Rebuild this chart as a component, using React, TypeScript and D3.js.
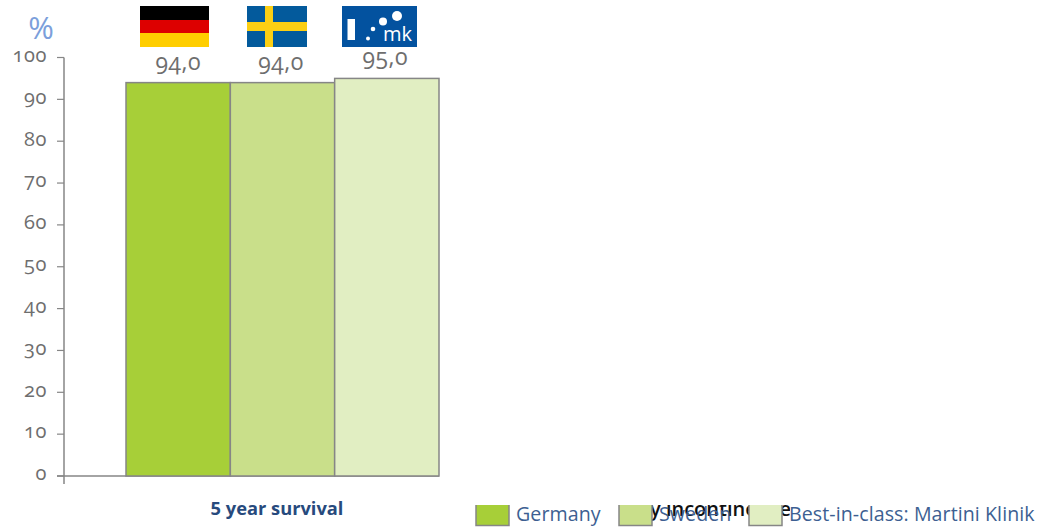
import React from "react";
import * as d3 from "d3";

const categories = ["5 year survival"];
const seriesNames = ["Germany", "Sweden", "Best-in-class: Martini Klinik"];
const seriesValues = [94, 94, 95];
const seriesColors = ["#a7cf38", "#c9df8a", "#e1eec2"];
const valueLabels = ["94,0", "94,0", "95,0"];
const yTicks = [0, 10, 20, 30, 40, 50, 60, 70, 80, 90, 100];
const hiddenTitle = "y incontinence";

const W = 1040, H = 527;
const tickFont = "'Open Sans', Lato, sans-serif";
const y = d3.scaleLinear().domain([0, 100]).range([476, 57.5]);
const x = d3.scaleBand().domain(seriesNames).range([126, 439]).paddingInner(0).paddingOuter(0);
const AX = "#868686";
const onum: React.CSSProperties = { fontVariantNumeric: "oldstyle-nums", fontFeatureSettings: '"onum"' };

export default function App() {
  return (
    <svg width={W} height={H} style={{ position: "fixed", left: 0, top: 0, background: "#fff" }}>
      <defs>
        <clipPath id="titleClip"><rect x={650} y={505} width={140} height={22} /></clipPath>
        <clipPath id="legendClip"><rect x={470} y={505} width={570} height={22} /></clipPath>
      </defs>
      <text x={41} y={39} textAnchor="middle" fontFamily={tickFont} fontSize={31} fill="#7c9fdb">%</text>

      {/* axes */}
      <line x1={64} x2={64} y1={57.5} y2={484} stroke={AX} strokeWidth={1.5} />
      <line x1={57} x2={439} y1={476} y2={476} stroke={AX} strokeWidth={1.5} />
      {yTicks.map((t) => (
        <g key={t}>
          <line x1={57} x2={64} y1={y(t)} y2={y(t)} stroke={AX} strokeWidth={1.2} />
          <text x={47} y={y(t) - 1} textAnchor="end" dominantBaseline="middle" fontFamily={tickFont}
            fontSize={20} letterSpacing={0.6} fill="#6e6e6e" style={onum}>{t}</text>
        </g>
      ))}

      {/* bars */}
      {seriesNames.map((s, i) => (
        <g key={s}>
          <rect x={x(s)!} y={y(seriesValues[i])} width={x.bandwidth()} height={476 - y(seriesValues[i])}
            fill={seriesColors[i]} stroke={AX} strokeWidth={1.5} />
          <text x={x(s)! + x.bandwidth() / 2 + (i === 2 ? -1.5 : i === 1 ? -1.5 : 0)} y={y(seriesValues[i]) - 13} textAnchor="middle"
            fontFamily={tickFont} fontSize={23} letterSpacing={0.5} fill="#6e6e6e" style={onum}>{valueLabels[i]}</text>
        </g>
      ))}

      {/* German flag */}
      <rect x={140} y={6} width={69} height={14} fill="#000" />
      <rect x={140} y={20} width={69} height={13} fill="#dd0000" />
      <rect x={140} y={33} width={69} height={14} fill="#ffce00" />

      {/* Swedish flag */}
      <rect x={247} y={6} width={60} height={41} fill="#035a9c" />
      <rect x={265} y={6} width={8} height={41} fill="#fccf13" />
      <rect x={247} y={22} width={60} height={9} fill="#fccf13" />

      {/* mk logo */}
      <rect x={342} y={6} width={75} height={41} fill="#03529f" />
      <rect x={347.5} y={19} width={7.5} height={21} fill="#fff" />
      <circle cx={397} cy={16} r={5} fill="#fff" />
      <circle cx={383} cy={21.5} r={4} fill="#fff" />
      <circle cx={373} cy={29} r={2.3} fill="#fff" />
      <circle cx={368} cy={38.5} r={2} fill="#fff" />
      <text x={383} y={41} fontFamily="'Open Sans', sans-serif" fontSize={20} fill="#fff">mk</text>

      {/* category label */}
      <text x={277} y={515} textAnchor="middle" fontFamily="'Open Sans', sans-serif" fontWeight={700}
        fontSize={18.3} fill="#274a7d">{categories[0]}</text>

      {/* clipped title behind legend */}
      <g clipPath="url(#titleClip)">
        <text x={650} y={516} fontFamily="'Open Sans', sans-serif" fontWeight={600} fontSize={20} fill="#111">{hiddenTitle}</text>
      </g>

      {/* legend */}
      {seriesNames.map((s, i) => {
        const sx = [476, 619, 749][i];
        const tx = [516, 659, 789][i];
        return (
          <g key={s}>
            <g clipPath="url(#legendClip)">
              <rect x={sx} y={500} width={33} height={25.5} fill={seriesColors[i]} stroke={AX} strokeWidth={1.5} />
            </g>
            <text x={tx} y={521} fontFamily="'Open Sans', sans-serif" fontSize={19.6} letterSpacing={0.08} fill="#3d5f92">{s}</text>
          </g>
        );
      })}
    </svg>
  );
}
